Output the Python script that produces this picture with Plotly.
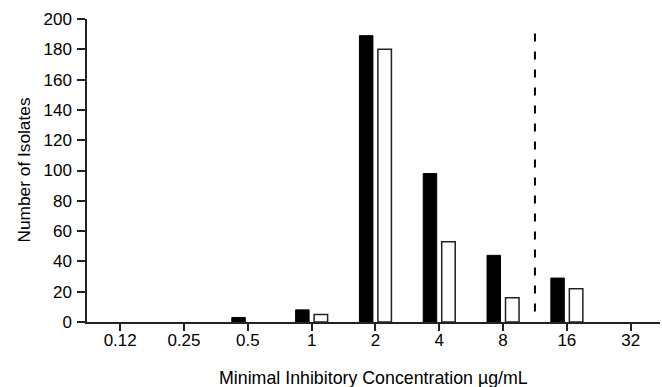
import plotly.graph_objects as go

mic_labels = ["0.12", "0.25", "0.5", "1", "2", "4", "8", "16", "32"]
series_black = [0, 0, 3, 8, 189, 98, 44, 29, 0]
series_white = [0, 0, 0, 5, 180, 53, 16, 22, 0]
y_ticks = [0, 20, 40, 60, 80, 100, 120, 140, 160, 180, 200]
breakpoint_pos = 6.5  # between 8 and 16
breakpoint_span = [7, 193]

font_family = "Liberation Sans, Arial, sans-serif"


def outline(values, w):
    return [0 if v == 0 else w for v in values]


fig = go.Figure()
fig.add_trace(go.Bar(x=mic_labels, y=series_black, name="A",
                     marker=dict(color="black",
                                 line=dict(color="black", width=outline(series_black, 1)))))
fig.add_trace(go.Bar(x=mic_labels, y=series_white, name="B",
                     marker=dict(color="white",
                                 line=dict(color="#222", width=outline(series_white, 1.5)))))

fig.add_shape(type="line", xref="x", yref="y",
              x0=breakpoint_pos, x1=breakpoint_pos,
              y0=breakpoint_span[0], y1=breakpoint_span[1],
              line=dict(color="black", width=2, dash="8px,10px"))

fig.add_annotation(text="Minimal Inhibitory Concentration µg/mL",
                   xref="paper", yref="paper", x=0.5, y=0,
                   xanchor="center", yanchor="middle", yshift=-56,
                   showarrow=False, font=dict(size=17.8))
fig.add_annotation(text="Number of Isolates",
                   xref="paper", yref="paper", x=0, y=0.5,
                   xanchor="center", yanchor="middle", xshift=-64,
                   textangle=-90, showarrow=False, font=dict(size=17.3))

fig.update_layout(
    width=662, height=387,
    margin=dict(l=87, r=2, t=19, b=65, autoexpand=False),
    plot_bgcolor="white", paper_bgcolor="white",
    showlegend=False,
    barmode="group", bargap=0.42, bargroupgap=0.27,
    font=dict(family=font_family, size=17, color="black"),
    xaxis=dict(
        type="category", range=[-0.52, 8.46], automargin=False,
        showline=True, linecolor="#222", linewidth=1.5,
        ticks="outside", ticklen=7, tickwidth=1.5, tickcolor="#222",
        tickfont=dict(size=17), ticklabelstandoff=-5,
        showgrid=False, zeroline=False,
    ),
    yaxis=dict(
        range=[0, 200], tickvals=y_ticks, automargin=False,
        showline=True, linecolor="#222", linewidth=1.5,
        ticks="outside", ticklen=8, tickwidth=1.5, tickcolor="#222",
        tickfont=dict(size=17), ticklabelstandoff=2,
        showgrid=False, zeroline=False,
    ),
)

fig.write_html("out.html", config={"displayModeBar": False},
               post_script="document.body.style.margin='0';")
